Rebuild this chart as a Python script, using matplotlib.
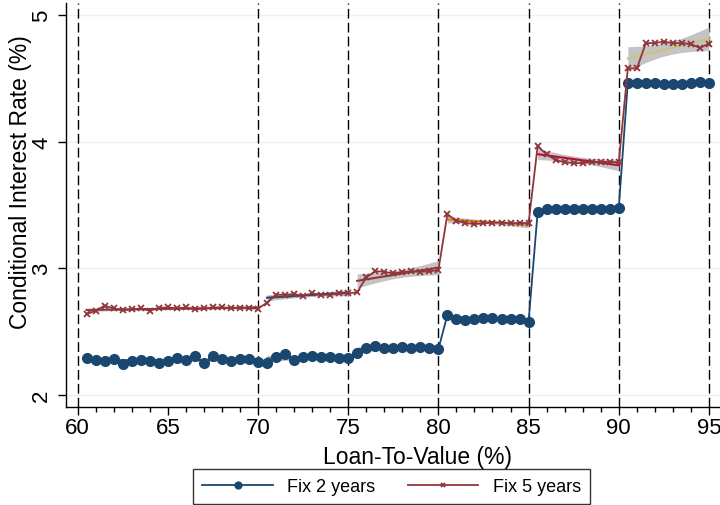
import numpy as np
import matplotlib.pyplot as plt

plt.rcParams['font.family'] = ['Liberation Sans', 'DejaVu Sans']

# loan-to-value buckets (%)
ltv = [60.5, 61.0, 61.5, 62.0, 62.5, 63.0, 63.5, 64.0, 64.5, 65.0,
       65.5, 66.0, 66.5, 67.0, 67.5, 68.0, 68.5, 69.0, 69.5, 70.0,
       70.5, 71.0, 71.5, 72.0, 72.5, 73.0, 73.5, 74.0, 74.5, 75.0,
       75.5, 76.0, 76.5, 77.0, 77.5, 78.0, 78.5, 79.0, 79.5, 80.0,
       80.5, 81.0, 81.5, 82.0, 82.5, 83.0, 83.5, 84.0, 84.5, 85.0,
       85.5, 86.0, 86.5, 87.0, 87.5, 88.0, 88.5, 89.0, 89.5, 90.0,
       90.5, 91.0, 91.5, 92.0, 92.5, 93.0, 93.5, 94.0, 94.5, 95.0]

fix2 = [2.287, 2.277, 2.269, 2.282, 2.242, 2.263, 2.274, 2.269, 2.250, 2.263,
        2.290, 2.274, 2.303, 2.248, 2.308, 2.279, 2.263, 2.282, 2.282, 2.258,
        2.250, 2.300, 2.320, 2.278, 2.300, 2.308, 2.300, 2.300, 2.290, 2.290,
        2.327, 2.366, 2.385, 2.366, 2.370, 2.374, 2.370, 2.374, 2.370, 2.360,
        2.630, 2.598, 2.590, 2.600, 2.608, 2.605, 2.600, 2.600, 2.600, 2.577,
        3.440, 3.470, 3.465, 3.465, 3.465, 3.470, 3.470, 3.470, 3.470, 3.477,
        4.465, 4.465, 4.460, 4.460, 4.455, 4.455, 4.455, 4.460, 4.470, 4.460]

fix5 = [2.637, 2.664, 2.703, 2.682, 2.669, 2.674, 2.682, 2.664, 2.685, 2.690,
        2.682, 2.690, 2.674, 2.682, 2.690, 2.690, 2.685, 2.685, 2.685, 2.680,
        2.727, 2.790, 2.790, 2.795, 2.782, 2.800, 2.790, 2.790, 2.800, 2.800,
        2.810, 2.927, 2.975, 2.972, 2.959, 2.970, 2.975, 2.972, 2.975, 2.985,
        3.427, 3.374, 3.356, 3.348, 3.354, 3.360, 3.360, 3.354, 3.356, 3.356,
        3.962, 3.900, 3.854, 3.836, 3.830, 3.830, 3.840, 3.840, 3.840, 3.836,
        4.578, 4.578, 4.778, 4.778, 4.790, 4.778, 4.778, 4.770, 4.740, 4.775]

cutoffs = [60, 70, 75, 80, 85, 90, 95]
fit_colors_2 = ['#1A476F', '#55752F', '#1A476F', '#1A476F', '#1A476F', '#1A476F']
fit_colors_5 = ['#90353B', '#1A476F', '#90353B', '#E37E00', '#C10534', '#CAC27E']

navy = '#1A476F'
maroon = '#90353B'

x_all = np.array(ltv)


def lfitci(ax, y_all, lo, hi, color):
    mask = (x_all > lo) & (x_all <= hi)
    x = x_all[mask]
    y = np.array(y_all)[mask]
    n = len(x)
    b, a = np.polyfit(x, y, 1)
    resid = y - (a + b * x)
    s = np.sqrt(np.sum(resid ** 2) / (n - 2))
    sxx = np.sum((x - x.mean()) ** 2)
    t = 2.101 if n >= 20 else 2.306
    xs = np.linspace(x.min(), x.max(), 50)
    yh = a + b * xs
    se = s * np.sqrt(1.0 / n + (xs - x.mean()) ** 2 / sxx)
    ax.fill_between(xs, yh - t * se, yh + t * se, color='#C4C4C4', lw=0, zorder=2)
    ax.plot(xs, yh, color=color, lw=1.5, zorder=3)


fig = plt.figure(figsize=(7.2, 5.06), dpi=100)
ax = fig.add_axes([66 / 720, 98 / 506, 654 / 720, 404 / 506])

for yv in [2, 3, 4, 5]:
    ax.axhline(yv, color='#EAF2F3', lw=1.0, zorder=0)

for c in cutoffs:
    ax.axvline(c, color='black', lw=1.0, ls=(0, (7, 3)), zorder=1)

for i in range(len(cutoffs) - 1):
    lfitci(ax, fix2, cutoffs[i], cutoffs[i + 1], fit_colors_2[i])
    lfitci(ax, fix5, cutoffs[i], cutoffs[i + 1], fit_colors_5[i])

ax.plot(ltv, fix2, color=navy, lw=1.3, marker='o', ms=7, mec=navy, mfc=navy,
        zorder=4, label='Fix 2 years')
ax.plot(ltv, fix5, color=maroon, lw=1.3, marker='x', ms=5, mew=1.3,
        zorder=5, label='Fix 5 years')

ax.set_xlim(59.36, 95.61)
ax.set_ylim(1.903, 5.095)
ax.set_xticks([60, 65, 70, 75, 80, 85, 90, 95])
ax.set_xticks(range(60, 96), minor=True)
ax.set_yticks([2, 3, 4, 5])

for side in ['top', 'right']:
    ax.spines[side].set_visible(False)
for side in ['left', 'bottom']:
    ax.spines[side].set_linewidth(1.0)

ax.tick_params(axis='both', which='major', length=6, width=1.0, labelsize=16, direction='out')
ax.tick_params(axis='x', which='minor', length=3.5, width=1.0)
ax.tick_params(axis='y', labelrotation=90, pad=4)
ax.tick_params(axis='x', pad=1.5)
plt.setp(ax.get_yticklabels(), va='center')

ax.set_xlabel('Loan-To-Value (%)', fontsize=16.5)
ax.set_ylabel('Conditional Interest Rate (%)', fontsize=16.5)
ax.xaxis.set_label_coords(0.537, -0.094)
ax.yaxis.set_label_coords(-0.052, 0.56)

leg = fig.legend(loc='lower center', bbox_to_anchor=(0.544, -0.016), ncol=2,
                 fontsize=13, frameon=True, fancybox=False, edgecolor='black',
                 handlelength=3.9, columnspacing=1.8, markerscale=0.7,
                 borderpad=0.5)
leg.get_frame().set_linewidth(1.0)

fig.savefig('out.png', dpi=100)
